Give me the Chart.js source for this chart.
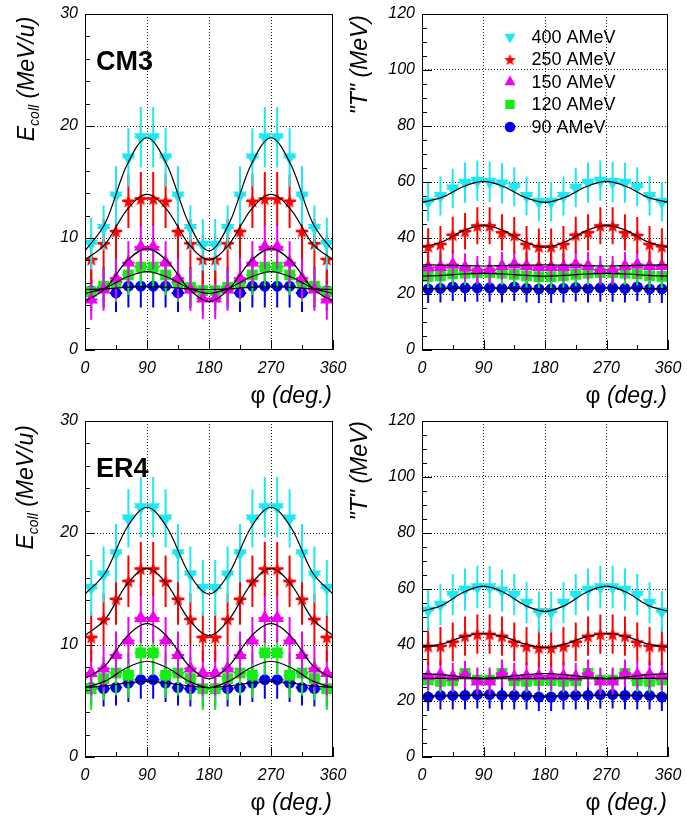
<!DOCTYPE html>
<html><head><meta charset="utf-8">
<script src="https://cdn.jsdelivr.net/npm/chart.js@4.4.1/dist/chart.umd.min.js"></script>
<style>
html,body{margin:0;padding:0;background:#fff;overflow:hidden;}
body{width:687px;height:818px;position:relative;}
canvas{position:absolute;}
</style></head><body>
<canvas id="cTL" width="353" height="409" style="left:0px;top:0px;width:353px;height:409px"></canvas>
<canvas id="cTR" width="344" height="409" style="left:343px;top:0px;width:344px;height:409px"></canvas>
<canvas id="cBL" width="353" height="409" style="left:0px;top:409px;width:353px;height:409px"></canvas>
<canvas id="cBR" width="344" height="409" style="left:343px;top:409px;width:344px;height:409px"></canvas>
<script>
// ---------------- DATA ----------------
const phiBins = [9,27,45,63,81,99,117,135,153,171,189,207,225,243,261,279,297,315,333,351];
const binHalfWidth = 9;
const fitPhi = [0,30,60,90,120,150,180,210,240,270,300,330,360];
const energyLabels = ['400 AMeV','250 AMeV','150 AMeV','120 AMeV','90 AMeV'];
const xTickValues = [0,90,180,270,360];
const ecollTickValues = [0,10,20,30];
const tempTickValues = [0,20,40,60,80,100,120];

// CM3, E_coll (MeV/u)
const cm3Ecoll400 = [9.5,10.9,13.8,17.2,19.0,19.0,17.2,13.8,10.9,9.4,9.4,10.9,13.8,17.2,19.0,19.0,17.2,13.8,10.9,9.5];
const cm3Ecoll250 = [8.1,9.5,10.6,13.3,13.5,13.5,13.3,10.6,9.5,8.1,8.1,9.5,10.6,13.3,13.5,13.5,13.3,10.6,9.5,8.1];
const cm3Ecoll150 = [4.5,5.4,6.4,7.8,9.2,9.2,7.8,6.4,5.4,4.6,4.6,5.4,6.4,7.8,9.2,9.2,7.8,6.4,5.4,4.5];
const cm3Ecoll120 = [5.2,5.7,6.0,6.7,7.4,7.4,6.7,6.0,5.6,5.3,5.3,5.6,6.0,6.7,7.4,7.4,6.7,6.0,5.7,5.2];
const cm3Ecoll90  = [5.3,5.6,5.1,5.7,5.7,5.7,5.7,5.1,5.6,5.3,5.3,5.6,5.1,5.7,5.7,5.7,5.7,5.1,5.6,5.3];
const cm3Ecoll400Err = [2.3,2.0,2.6,2.6,2.7,2.7,2.6,2.6,2.0,2.3,2.3,2.0,2.6,2.6,2.7,2.7,2.6,2.6,2.0,2.3];
const cm3Ecoll250Err = [2.2,2.2,2.4,2.4,2.4,2.4,2.4,2.4,2.2,2.2,2.2,2.2,2.4,2.4,2.4,2.4,2.4,2.4,2.2,2.2];
const cm3Ecoll150Err = [1.8,1.9,1.9,1.9,2.0,2.0,1.9,1.9,1.9,1.8,1.8,1.9,1.9,1.9,2.0,2.0,1.9,1.9,1.9,1.8];
const cm3Ecoll120Err = [1.7,1.7,1.7,1.8,1.8,1.8,1.8,1.7,1.7,1.7,1.7,1.7,1.7,1.8,1.8,1.8,1.8,1.7,1.7,1.7];
const cm3Ecoll90Err  = [1.8,1.8,1.7,1.9,1.9,1.9,1.9,1.7,1.8,1.8,1.8,1.8,1.7,1.9,1.9,1.9,1.9,1.7,1.8,1.8];
const cm3Ecoll400Fit = [8.85,11.4,16.4,18.95,16.4,11.4,8.85,11.4,16.4,18.95,16.4,11.4,8.85];
const cm3Ecoll250Fit = [8.05,9.5,12.45,13.9,12.45,9.5,8.05,9.5,12.45,13.9,12.45,9.5,8.05];
const cm3Ecoll150Fit = [4.35,5.5,7.9,9.05,7.9,5.5,4.35,5.5,7.9,9.05,7.9,5.5,4.35];
const cm3Ecoll120Fit = [5.05,5.55,6.5,7.0,6.5,5.55,5.05,5.55,6.5,7.0,6.5,5.55,5.05];
const cm3Ecoll90Fit  = [5.4,5.45,5.6,5.65,5.6,5.45,5.4,5.45,5.6,5.65,5.6,5.45,5.4];

// CM3, "T" (MeV)
const cm3T400 = [53.0,55.0,57.7,59.8,60.5,60.1,59.5,58.3,55.0,53.0,53.0,55.0,58.0,59.8,60.5,60.0,59.8,58.3,55.0,53.0];
const cm3T250 = [37.0,37.8,41.1,42.4,44.4,44.4,42.0,41.0,37.8,36.9,36.9,37.8,41.1,42.0,44.4,44.4,42.0,41.0,37.8,37.0];
const cm3T150 = [29.5,29.6,30.5,29.5,28.6,28.6,30.0,30.5,30.0,29.6,29.6,29.6,30.5,30.0,28.6,28.6,30.0,30.5,30.0,30.0];
const cm3T120 = [26.3,26.5,27.2,27.4,27.6,27.6,27.4,27.0,26.5,26.2,26.2,26.5,27.0,27.4,27.6,27.6,27.4,27.2,26.5,26.3];
const cm3T90  = [21.8,22.0,22.5,22.2,22.2,22.2,22.0,22.5,22.0,21.8,21.8,22.0,22.3,22.0,22.2,22.2,22.0,22.5,21.8,21.8];
const cm3T400Err = [7.0,7.0,7.0,7.2,7.2,7.2,7.2,7.0,7.0,7.0,7.0,7.0,7.0,7.2,7.2,7.2,7.2,7.0,7.0,7.0];
const cm3T250Err = [6.5,6.5,6.5,6.5,6.6,6.6,6.5,6.5,6.5,6.5,6.5,6.5,6.5,6.5,6.6,6.6,6.5,6.5,6.5,6.5];
const cm3T150Err = [5.0,5.0,5.0,5.0,5.0,5.0,5.0,5.0,5.0,5.0,5.0,5.0,5.0,5.0,5.0,5.0,5.0,5.0,5.0,5.0];
const cm3T120Err = [4.2,4.2,4.2,4.2,4.2,4.2,4.2,4.2,4.2,4.2,4.2,4.2,4.2,4.2,4.2,4.2,4.2,4.2,4.2,4.2];
const cm3T90Err  = [5.0,5.0,5.0,5.0,5.0,5.0,5.0,5.0,5.0,5.0,5.0,5.0,5.0,5.0,5.0,5.0,5.0,5.0,5.0,5.0];
const cm3T400Fit = [52.7,54.6,58.3,60.2,58.3,54.6,52.7,54.6,58.3,60.2,58.3,54.6,52.7];
const cm3T250Fit = [36.7,38.65,42.55,44.5,42.55,38.65,36.7,38.65,42.55,44.5,42.55,38.65,36.7];
const cm3T150Fit = [30.4,30.3,30.1,30.0,30.1,30.3,30.4,30.3,30.1,30.0,30.1,30.3,30.4];
const cm3T120Fit = [26.4,26.65,27.15,27.4,27.15,26.65,26.4,26.65,27.15,27.4,27.15,26.65,26.4];
const cm3T90Fit  = [21.9,21.95,22.1,22.15,22.1,21.95,21.9,21.95,22.1,22.15,22.1,21.95,21.9];

// ER4, E_coll (MeV/u)
const er4Ecoll400 = [15.1,16.3,18.2,21.3,22.3,22.3,21.3,18.2,16.3,15.1,15.1,16.3,18.2,21.3,22.3,22.3,21.3,18.2,16.3,15.1];
const er4Ecoll250 = [10.7,12.3,14.1,15.7,16.8,16.8,15.7,14.1,12.3,10.7,10.7,12.3,14.1,15.7,16.8,16.8,15.7,14.1,12.3,10.7];
const er4Ecoll150 = [7.5,7.9,9.1,10.4,12.4,12.4,10.4,9.1,7.9,7.5,7.5,7.9,9.1,10.4,12.4,12.4,10.4,9.1,7.9,7.5];
const er4Ecoll120 = [6.1,7.0,7.5,7.3,9.3,9.3,7.3,7.5,7.0,6.1,6.1,7.0,7.5,7.3,9.3,9.3,7.3,7.5,7.0,6.1];
const er4Ecoll90  = [6.2,6.1,6.2,6.6,6.9,6.9,6.6,6.2,6.1,6.1,6.1,6.1,6.2,6.6,6.9,6.9,6.6,6.2,6.1,6.1];
const er4Ecoll400Err = [2.5,2.5,2.6,2.6,2.7,2.7,2.6,2.6,2.5,2.5,2.5,2.5,2.6,2.6,2.7,2.7,2.6,2.6,2.5,2.5];
const er4Ecoll250Err = [2.2,2.3,2.3,2.3,2.4,2.4,2.3,2.3,2.3,2.2,2.2,2.3,2.3,2.3,2.4,2.4,2.3,2.3,2.3,2.2];
const er4Ecoll150Err = [2.0,2.0,2.1,2.1,2.2,2.2,2.1,2.1,2.0,2.0,2.0,2.0,2.1,2.1,2.2,2.2,2.1,2.1,2.0,2.0];
const er4Ecoll120Err = [1.9,1.9,2.0,2.0,2.0,2.0,2.0,2.0,1.9,1.9,1.9,1.9,2.0,2.0,2.0,2.0,2.0,2.0,1.9,1.9];
const er4Ecoll90Err  = [1.6,1.6,1.6,1.7,1.7,1.7,1.7,1.6,1.6,1.6,1.6,1.6,1.6,1.7,1.7,1.7,1.7,1.6,1.6,1.6];
const er4Ecoll400Fit = [14.55,16.5,20.4,22.3,20.4,16.5,14.55,16.5,20.4,22.3,20.4,16.5,14.55];
const er4Ecoll250Fit = [10.85,12.35,15.35,16.85,15.35,12.35,10.85,12.35,15.35,16.85,15.35,12.35,10.85];
const er4Ecoll150Fit = [7.0,8.2,10.7,11.9,10.7,8.2,7.0,8.2,10.7,11.9,10.7,8.2,7.0];
const er4Ecoll120Fit = [6.2,6.8,7.95,8.55,7.95,6.8,6.2,6.8,7.95,8.55,7.95,6.8,6.2];
const er4Ecoll90Fit  = [6.2,6.35,6.6,6.75,6.6,6.35,6.2,6.35,6.6,6.75,6.6,6.35,6.2];

// ER4, "T" (MeV)
const er4T400 = [52.4,54.4,58.0,59.8,60.7,60.7,59.5,58.0,55.1,51.8,51.8,55.1,58.0,59.8,60.7,60.7,59.8,58.0,55.1,52.0];
const er4T250 = [39.6,39.6,41.1,43.2,43.9,43.9,43.2,41.1,39.6,39.0,39.0,39.6,41.1,43.2,43.9,43.9,43.2,41.1,39.6,39.6];
const er4T150 = [28.9,29.4,28.6,29.4,27.0,27.0,29.8,28.6,28.9,28.9,28.9,28.9,28.6,29.8,27.0,27.0,29.8,29.4,29.4,28.9];
const er4T120 = [27.5,27.0,27.2,29.9,27.5,27.5,29.9,27.2,27.0,27.3,27.3,27.0,27.2,29.9,27.5,27.5,29.9,27.2,27.0,27.5];
const er4T90  = [21.4,22.0,22.0,22.0,22.3,22.3,22.0,22.0,22.0,21.4,21.4,22.0,22.0,22.0,22.3,22.3,22.0,22.0,22.0,21.4];
const er4T400Err = [7.3,7.3,7.4,7.5,7.6,7.6,7.5,7.4,7.3,7.3,7.3,7.3,7.4,7.5,7.6,7.6,7.5,7.4,7.3,7.3];
const er4T250Err = [6.8,6.8,6.9,7.0,7.0,7.0,7.0,6.9,6.8,6.8,6.8,6.8,6.9,7.0,7.0,7.0,7.0,6.9,6.8,6.8];
const er4T150Err = [5.0,5.0,5.0,5.0,5.0,5.0,5.0,5.0,5.0,5.0,5.0,5.0,5.0,5.0,5.0,5.0,5.0,5.0,5.0,5.0];
const er4T120Err = [4.0,4.0,4.0,4.0,4.0,4.0,4.0,4.0,4.0,4.0,4.0,4.0,4.0,4.0,4.0,4.0,4.0,4.0,4.0,4.0];
const er4T90Err  = [5.0,5.0,5.0,5.0,5.0,5.0,5.0,5.0,5.0,5.0,5.0,5.0,5.0,5.0,5.0,5.0,5.0,5.0,5.0,5.0];
const er4T400Fit = [52.0,54.25,58.75,61.0,58.75,54.25,52.0,54.25,58.75,61.0,58.75,54.25,52.0];
const er4T250Fit = [39.1,40.4,42.9,44.2,42.9,40.4,39.1,40.4,42.9,44.2,42.9,40.4,39.1];
const er4T150Fit = [29.8,29.4,28.5,28.1,28.5,29.4,29.8,29.4,28.5,28.1,28.5,29.4,29.8];
const er4T120Fit = [28.1,28.05,27.95,27.9,27.95,28.05,28.1,28.05,27.95,27.9,27.95,28.05,28.1];
const er4T90Fit  = [21.8,21.85,22.0,22.1,22.0,21.85,21.8,21.85,22.0,22.1,22.0,21.85,21.8];

// ---------------- STYLE ----------------
const FONT = "'Liberation Sans', Arial, Helvetica, sans-serif";
const seriesColors = ['rgb(30,232,242)', '#ff0000', '#f200f2', '#12ee12', '#0000f2'];

function makeStar(color, R) {
  const s = Math.ceil(2 * R + 2);
  const c = document.createElement('canvas');
  c.width = s; c.height = s;
  const g = c.getContext('2d');
  g.fillStyle = color;
  g.beginPath();
  for (let k = 0; k < 10; k++) {
    const r = (k % 2) ? R * 0.42 : R;
    const a = -Math.PI / 2 + k * Math.PI / 5;
    const px = s / 2 + r * Math.cos(a), py = s / 2 + r * Math.sin(a) + R * 0.1;
    if (k === 0) g.moveTo(px, py); else g.lineTo(px, py);
  }
  g.closePath(); g.fill();
  return c;
}
const starBig = makeStar(seriesColors[1], 7.2);
const starSmall = makeStar(seriesColors[1], 6.2);

const markerStyles = [
  {style: 'triangle', rotation: 180, radius: 7.8},
  {style: starBig, rotation: 0, radius: 7},
  {style: 'triangle', rotation: 0, radius: 7.8},
  {style: 'rect', rotation: 0, radius: 7.6},
  {style: 'circle', rotation: 0, radius: 5.5},
];
const legendMarkerStyles = [
  {style: 'triangle', rotation: 180, radius: 6.4},
  {style: starSmall, rotation: 0, radius: 6},
  {style: 'triangle', rotation: 0, radius: 6.4},
  {style: 'rect', rotation: 0, radius: 6.6},
  {style: 'circle', rotation: 0, radius: 5.3},
];

const panelCfg = {
  cTL: {ymax: 30, yTicks: ecollTickValues, yMinor: 2, yMajor: 10,
        vals: [cm3Ecoll400, cm3Ecoll250, cm3Ecoll150, cm3Ecoll120, cm3Ecoll90],
        errs: [cm3Ecoll400Err, cm3Ecoll250Err, cm3Ecoll150Err, cm3Ecoll120Err, cm3Ecoll90Err],
        fits: [cm3Ecoll400Fit, cm3Ecoll250Fit, cm3Ecoll150Fit, cm3Ecoll120Fit, cm3Ecoll90Fit],
        yAxisW: 85, xAxisH: 59, padT: 14, padR: 20,
        yTitle: [{t: 'E', s: 23}, {t: 'coll', s: 14, dy: 5}, {t: ' (MeV/u)', s: 23}],
        yTitleDX: -51.5, yTitleDY: 2.7, tag: 'CM3', legend: false},
  cTR: {ymax: 120, yTicks: tempTickValues, yMinor: 5, yMajor: 20,
        vals: [cm3T400, cm3T250, cm3T150, cm3T120, cm3T90],
        errs: [cm3T400Err, cm3T250Err, cm3T150Err, cm3T120Err, cm3T90Err],
        fits: [cm3T400Fit, cm3T250Fit, cm3T150Fit, cm3T120Fit, cm3T90Fit],
        yAxisW: 79, xAxisH: 59, padT: 14, padR: 19,
        yTitle: [{t: '"T" (MeV)', s: 23}],
        yTitleDX: -55, yTitleDY: 1, tag: null, legend: true},
  cBL: {ymax: 30, yTicks: ecollTickValues, yMinor: 2, yMajor: 10,
        vals: [er4Ecoll400, er4Ecoll250, er4Ecoll150, er4Ecoll120, er4Ecoll90],
        errs: [er4Ecoll400Err, er4Ecoll250Err, er4Ecoll150Err, er4Ecoll120Err, er4Ecoll90Err],
        fits: [er4Ecoll400Fit, er4Ecoll250Fit, er4Ecoll150Fit, er4Ecoll120Fit, er4Ecoll90Fit],
        yAxisW: 85, xAxisH: 61, padT: 12, padR: 20,
        yTitle: [{t: 'E', s: 23}, {t: 'coll', s: 14, dy: 5}, {t: ' (MeV/u)', s: 23}],
        yTitleDX: -52.5, yTitleDY: 4, tag: 'ER4', legend: false},
  cBR: {ymax: 120, yTicks: tempTickValues, yMinor: 5, yMajor: 20,
        vals: [er4T400, er4T250, er4T150, er4T120, er4T90],
        errs: [er4T400Err, er4T250Err, er4T150Err, er4T120Err, er4T90Err],
        fits: [er4T400Fit, er4T250Fit, er4T150Fit, er4T120Fit, er4T90Fit],
        yAxisW: 79, xAxisH: 61, padT: 12, padR: 19,
        yTitle: [{t: '"T" (MeV)', s: 23}],
        yTitleDX: -55, yTitleDY: 0, tag: null, legend: false},
};

function drawMarker(ctx, m, x, y, color) {
  ctx.save();
  ctx.fillStyle = color; ctx.strokeStyle = color;
  if (Chart.helpers && Chart.helpers.drawPoint) {
    Chart.helpers.drawPoint(ctx, {pointStyle: m.style, rotation: m.rotation, radius: m.radius, borderWidth: 0}, x, y);
  } else {
    ctx.beginPath(); ctx.arc(x, y, m.radius, 0, Math.PI * 2); ctx.fill();
  }
  ctx.restore();
}

const rootDeco = {
  id: 'rootDeco',
  beforeDatasetDraw(chart, args) {
    const ds = chart.data.datasets[args.index];
    if (!ds.errY) return;
    const {ctx, chartArea: a, scales: {x, y}} = chart;
    ctx.save();
    ctx.beginPath(); ctx.rect(a.left, a.top, a.right - a.left, a.bottom - a.top); ctx.clip();
    ctx.strokeStyle = ds.errColor; ctx.lineWidth = 2; ctx.lineCap = 'butt';
    ds.data.forEach((pt, j) => {
      const px = x.getPixelForValue(pt.x), py = y.getPixelForValue(pt.y);
      const e = ds.errY[j];
      ctx.beginPath();
      ctx.moveTo(px, y.getPixelForValue(pt.y - e)); ctx.lineTo(px, y.getPixelForValue(pt.y + e));
      ctx.moveTo(x.getPixelForValue(pt.x - ds.errX), py); ctx.lineTo(x.getPixelForValue(pt.x + ds.errX), py);
      ctx.stroke();
    });
    ctx.restore();
  },
  afterDraw(chart) {
    const cfg = panelCfg[chart.canvas.id];
    const {ctx, chartArea: a, scales: {x, y}} = chart;
    ctx.save();
    // frame
    ctx.strokeStyle = '#000'; ctx.lineWidth = 1;
    ctx.strokeRect(Math.round(a.left) + 0.5, Math.round(a.top) + 0.5, Math.round(a.right - a.left) - 1, Math.round(a.bottom - a.top) - 1);
    // inward ticks
    ctx.beginPath();
    for (let v = 0; v <= cfg.ymax + 1e-9; v += cfg.yMinor) {
      const py = Math.round(y.getPixelForValue(v)) + 0.5;
      const len = (Math.abs(v % cfg.yMajor) < 1e-9) ? 10 : 5;
      ctx.moveTo(a.left, py); ctx.lineTo(a.left + len, py);
    }
    for (let v = 0; v <= 360; v += 45) {
      const px = Math.round(x.getPixelForValue(v)) + 0.5;
      const len = (v % 90 === 0) ? 10 : 5;
      ctx.moveTo(px, a.bottom); ctx.lineTo(px, a.bottom - len);
    }
    ctx.stroke();
    ctx.fillStyle = '#000';
    // y title (rotated, ends at top)
    ctx.save();
    ctx.translate(a.left + cfg.yTitleDX, a.top + cfg.yTitleDY);
    ctx.rotate(-Math.PI / 2);
    ctx.textAlign = 'left'; ctx.textBaseline = 'alphabetic';
    const widths = cfg.yTitle.map(p => { ctx.font = `italic ${p.s}px ${FONT}`; return ctx.measureText(p.t).width; });
    let tx = -widths.reduce((s, w) => s + w, 0);
    cfg.yTitle.forEach((p, i) => { ctx.font = `italic ${p.s}px ${FONT}`; ctx.fillText(p.t, tx, p.dy || 0); tx += widths[i]; });
    ctx.restore();
    // x title
    ctx.textBaseline = 'alphabetic'; ctx.textAlign = 'left';
    ctx.font = `italic 23px ${FONT}`;
    const wDeg = ctx.measureText(' (deg.)').width;
    ctx.font = `23px ${FONT}`;
    const wPhi = ctx.measureText('φ').width;
    const xEnd = a.right - 1, by = a.bottom + 53;
    ctx.fillText('φ', xEnd - wDeg - wPhi, by);
    ctx.font = `italic 23px ${FONT}`;
    ctx.fillText(' (deg.)', xEnd - wDeg, by);
    // panel tag
    if (cfg.tag) {
      ctx.font = `bold 27px ${FONT}`;
      ctx.fillText(cfg.tag, a.left + 11, a.top + 56);
    }
    // legend
    if (cfg.legend) {
      ctx.font = `18px ${FONT}`;
      ctx.textBaseline = 'middle';
      energyLabels.forEach((lab, i) => {
        const ly = a.top + 23 + i * 22.5;
        drawMarker(ctx, legendMarkerStyles[i], a.left + 88, ly, seriesColors[i]);
        ctx.fillStyle = '#000';
        ctx.fillText(lab, a.left + 109.5, ly + 1);
      });
    }
    ctx.restore();
  }
};
Chart.register(rootDeco);

function gridColor(maxV) {
  return (c) => (c.tick && (c.tick.value === 0 || c.tick.value === maxV)) ? 'rgba(0,0,0,0)' : '#1a1a1a';
}

function buildChart(id) {
  const cfg = panelCfg[id];
  const datasets = [];
  cfg.fits.forEach((f) => {
    datasets.push({
      type: 'line', data: fitPhi.map((p, j) => ({x: p, y: f[j]})),
      borderColor: '#000', borderWidth: 1.2, pointRadius: 0, fill: false,
      cubicInterpolationMode: 'monotone', showLine: true
    });
  });
  cfg.vals.forEach((vals, i) => {
    const m = markerStyles[i];
    datasets.push({
      type: 'scatter', label: energyLabels[i],
      data: phiBins.map((p, j) => ({x: p, y: vals[j]})),
      errY: cfg.errs[i], errX: binHalfWidth, errColor: seriesColors[i],
      pointStyle: m.style, pointRotation: m.rotation, pointRadius: m.radius,
      pointBackgroundColor: seriesColors[i], pointBorderColor: seriesColors[i], pointBorderWidth: 0,
      showLine: false
    });
  });
  const tickFont = {family: FONT, size: 16, style: 'italic'};
  return new Chart(document.getElementById(id), {
    type: 'scatter',
    data: {datasets},
    options: {
      responsive: false, animation: false, devicePixelRatio: 1,
      layout: {padding: {left: 0, right: cfg.padR, top: cfg.padT, bottom: 0}},
      plugins: {legend: {display: false}, tooltip: {enabled: false}},
      scales: {
        x: {
          type: 'linear', min: 0, max: 360,
          afterBuildTicks: (s) => { s.ticks = xTickValues.map(v => ({value: v})); },
          ticks: {font: tickFont, color: '#000', padding: 9, maxRotation: 0, autoSkip: false},
          grid: {drawTicks: false, color: gridColor(360), lineWidth: 1},
          border: {display: false, dash: [1, 2]},
          afterFit: (s) => { s.height = cfg.xAxisH; s.paddingLeft = 0; s.paddingRight = 0; s.paddingTop = 0; s.paddingBottom = 0; }
        },
        y: {
          type: 'linear', min: 0, max: cfg.ymax,
          afterBuildTicks: (s) => { s.ticks = cfg.yTicks.map(v => ({value: v})); },
          ticks: {font: tickFont, color: '#000', padding: 7},
          grid: {drawTicks: false, color: gridColor(cfg.ymax), lineWidth: 1},
          border: {display: false, dash: [1, 2]},
          afterFit: (s) => { s.width = cfg.yAxisW; s.paddingLeft = 0; s.paddingRight = 0; s.paddingTop = 0; s.paddingBottom = 0; }
        }
      }
    }
  });
}
['cTL', 'cTR', 'cBL', 'cBR'].forEach(buildChart);
</script>
</body></html>
